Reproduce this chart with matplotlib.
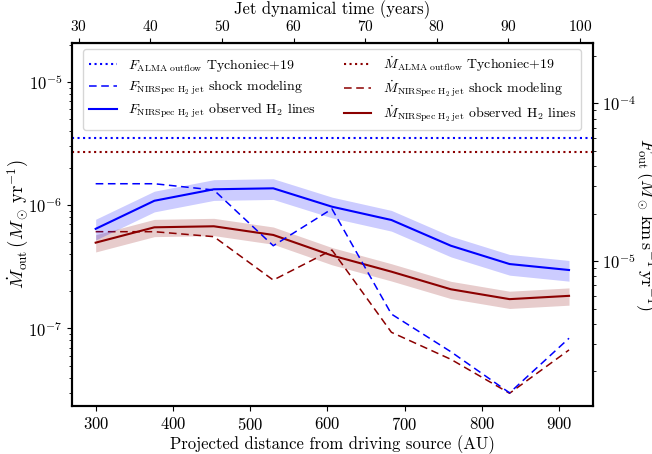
import numpy as np
import matplotlib
matplotlib.use("Agg")
import matplotlib.pyplot as plt

plt.rcParams['font.family'] = ['cmr10']
plt.rcParams['mathtext.fontset'] = 'cm'
plt.rcParams['axes.formatter.use_mathtext'] = True
plt.rcParams['axes.unicode_minus'] = False

# data
distance_au = [300, 376, 453, 530, 606, 683, 760, 836, 913]
F_obs = [1.60e-5, 2.41e-5, 2.85e-5, 2.89e-5, 2.21e-5, 1.82e-5, 1.25e-5, 9.57e-6, 8.77e-6]
F_shock = [3.09e-5, 3.09e-5, 2.82e-5, 1.25e-5, 2.14e-5, 4.61e-6, 2.66e-6, 1.46e-6, 3.24e-6]
M_obs = [4.97e-7, 6.62e-7, 6.75e-7, 5.74e-7, 3.91e-7, 2.89e-7, 2.08e-7, 1.73e-7, 1.84e-7]
M_shock = [6.10e-7, 6.10e-7, 5.56e-7, 2.47e-7, 4.33e-7, 9.31e-8, 5.62e-8, 2.98e-8, 6.70e-8]
F_alma = 6.05e-5
M_alma = 2.72e-6
F_err_frac = 0.15
M_err_frac = 0.16
au_per_year = 9.27

x = np.array(distance_au)
Fo = np.array(F_obs)
Mo = np.array(M_obs)

W, H = 652, 454
ax_l, ax_r, ax_t, ax_b = 72, 592.7, 43.3, 406
fig = plt.figure(figsize=(W/100, H/100), dpi=100)
ax = fig.add_axes([ax_l/W, 1-ax_b/H, (ax_r-ax_l)/W, (ax_b-ax_t)/H])
ax2 = ax.twinx()

blue = 'blue'
red = '#8b0000'

# Mass-loss rate (left axis)
ax.fill_between(x, Mo*(1-M_err_frac), Mo*(1+M_err_frac), color=red, alpha=0.2, lw=0)
lM3, = ax.plot(x, Mo, color=red, lw=1.5)
lM2, = ax.plot(x, M_shock, color=red, lw=1.1, ls=(0, (5, 3)))
lM1 = ax.axhline(M_alma, color=red, lw=1.5, ls=':')
ax.set_yscale('log')
ax.set_ylim(2.35e-8, 2.06e-5)

# Momentum flux (right axis)
ax2.fill_between(x, Fo*(1-F_err_frac), Fo*(1+F_err_frac), color=blue, alpha=0.2, lw=0)
lF3, = ax2.plot(x, Fo, color=blue, lw=1.5)
lF2, = ax2.plot(x, F_shock, color=blue, lw=1.1, ls=(0, (5, 3)))
lF1 = ax2.axhline(F_alma, color=blue, lw=1.5, ls=':')
ax2.set_yscale('log')
ax2.set_ylim(1.205e-6, 2.40e-4)

ax.set_xlim(x.min() - 0.05*(x.max()-x.min()), x.max() + 0.05*(x.max()-x.min()))

ax.set_xlabel('Projected distance from driving source (AU)', fontsize=12, labelpad=2)
ax.set_ylabel(r'$\dot{M}_{\rm out}\,(M_\odot\,{\rm yr}^{-1})$', fontsize=13.5,
              va='center', ha='center')
ax.yaxis.set_label_coords((18-ax_l)/(ax_r-ax_l), 0.5)
ax2.set_ylabel(r'$F_{\rm out}\,(M_\odot\,{\rm km\,s}^{-1}\,{\rm yr}^{-1})$', fontsize=13,
               rotation=270, va='center', ha='center')
ax2.yaxis.set_label_coords((644.5-ax_l)/(ax_r-ax_l), 0.5)

secax = ax.secondary_xaxis('top', functions=(lambda d: d/au_per_year, lambda t: t*au_per_year))
secax.set_xlabel('Jet dynamical time (years)', fontsize=12, labelpad=3)
secax.tick_params(labelsize=11)

ax.tick_params(labelsize=12)
ax2.tick_params(labelsize=12)
for a in (ax, ax2):
    for s in a.spines.values():
        s.set_linewidth(1.5)

handles = [lF1, lF2, lF3, lM1, lM2, lM3]
labels = [r'$F_{\rm ALMA\ outflow}$ Tychoniec+19',
          r'$F_{\rm NIRSpec\ H_2\ jet}$ shock modeling',
          r'$F_{\rm NIRSpec\ H_2\ jet}$ observed H$_2$ lines',
          r'$\dot{M}_{\rm ALMA\ outflow}$ Tychoniec+19',
          r'$\dot{M}_{\rm NIRSpec\ H_2\ jet}$ shock modeling',
          r'$\dot{M}_{\rm NIRSpec\ H_2\ jet}$ observed H$_2$ lines']
ax2.legend(handles, labels, ncol=2, loc='upper center', fontsize=10,
           columnspacing=2.0, handlelength=2.0, labelspacing=0.35,
           borderaxespad=0.4)

fig.savefig('out.png', dpi=100)
